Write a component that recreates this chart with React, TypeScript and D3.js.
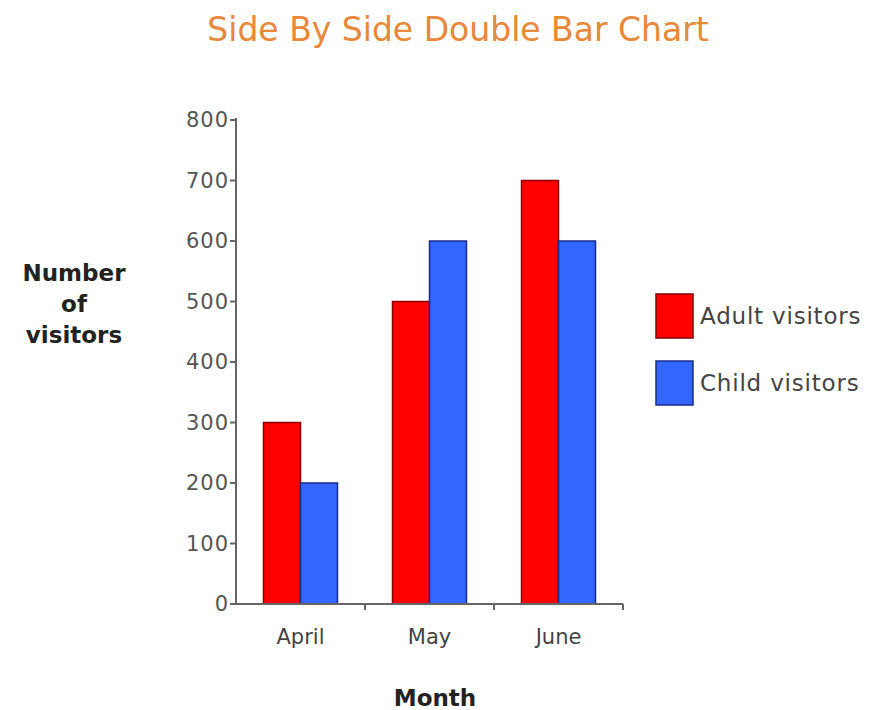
import React from "react";
import * as d3 from "d3";

const months = ["April", "May", "June"];
const seriesNames = ["Adult visitors", "Child visitors"];
const adultVisitors = [300, 500, 700];
const childVisitors = [200, 600, 600];
const yTicks = [0, 100, 200, 300, 400, 500, 600, 700, 800];

const fills = ["#ff0000", "#3366ff"];
const strokes = ["#8a0000", "#1a2a8a"];

export default function App() {
  const W = 877, H = 710;
  const left = 236, right = 623, top = 120, bottom = 604;
  const x = d3.scaleBand<string>().domain(months).range([left, right]).paddingInner(0).paddingOuter(0);
  const y = d3.scaleLinear().domain([0, 800]).range([bottom, top]);
  const inner = d3.scaleBand<string>().domain(seriesNames).range([27.5, x.bandwidth() - 27.5]);
  const values = [adultVisitors, childVisitors];
  const font = "'DejaVu Sans', Verdana, sans-serif";
  return (
    <svg width={W} height={H} style={{ position: "absolute", left: 0, top: 0, background: "#fff" }} fontFamily={font}>
      <text x={458} y={29} dy="0.35em" textAnchor="middle" fontSize={33} fill="#e8883a">Side By Side Double Bar Chart</text>
      {months.map((m, i) =>
        seriesNames.map((s, j) => {
          const v = values[j][i];
          return (
            <rect key={m + s} x={(x(m) as number) + (inner(s) as number)} y={y(v)} width={inner.bandwidth()} height={y(0) - y(v)}
              fill={fills[j]} stroke={strokes[j]} strokeWidth={1.5} />
          );
        })
      )}
      <line x1={left} x2={left} y1={top - 2} y2={bottom} stroke="#666" strokeWidth={2} />
      <line x1={left} x2={right} y1={bottom} y2={bottom} stroke="#666" strokeWidth={2} />
      {yTicks.map((t) => (
        <g key={t}>
          <line x1={left - 6} x2={left} y1={y(t)} y2={y(t)} stroke="#666" strokeWidth={2} />
          <text x={left - 7} y={y(t)} dy="0.35em" textAnchor="end" fontSize={21} letterSpacing={1} fill="#555">{t}</text>
        </g>
      ))}
      {months.map((m) => (
        <g key={m}>
          <line x1={(x(m) as number) + x.bandwidth()} x2={(x(m) as number) + x.bandwidth()} y1={bottom} y2={bottom + 6} stroke="#666" strokeWidth={2} />
          <text x={(x(m) as number) + x.bandwidth() / 2} y={637} dy="0.35em" textAnchor="middle" fontSize={21} fill="#444">{m}</text>
        </g>
      ))}
      <text x={435} y={698} dy="0.35em" textAnchor="middle" fontSize={23} fontWeight="bold" fill="#222">Month</text>
      <text textAnchor="middle" fontSize={23} fontWeight="bold" fill="#222">
        <tspan x={74} y={281}>Number</tspan>
        <tspan x={74} y={312}>of</tspan>
        <tspan x={74} y={343}>visitors</tspan>
      </text>
      {seriesNames.map((s, j) => (
        <g key={s}>
          <rect x={656} y={294 + j * 67} width={37} height={44} fill={fills[j]} stroke={strokes[j]} strokeWidth={1.5} />
          <text x={700} y={316 + j * 67} dy="0.35em" fontSize={23} letterSpacing={0.8} fill="#444">{s}</text>
        </g>
      ))}
    </svg>
  );
}
